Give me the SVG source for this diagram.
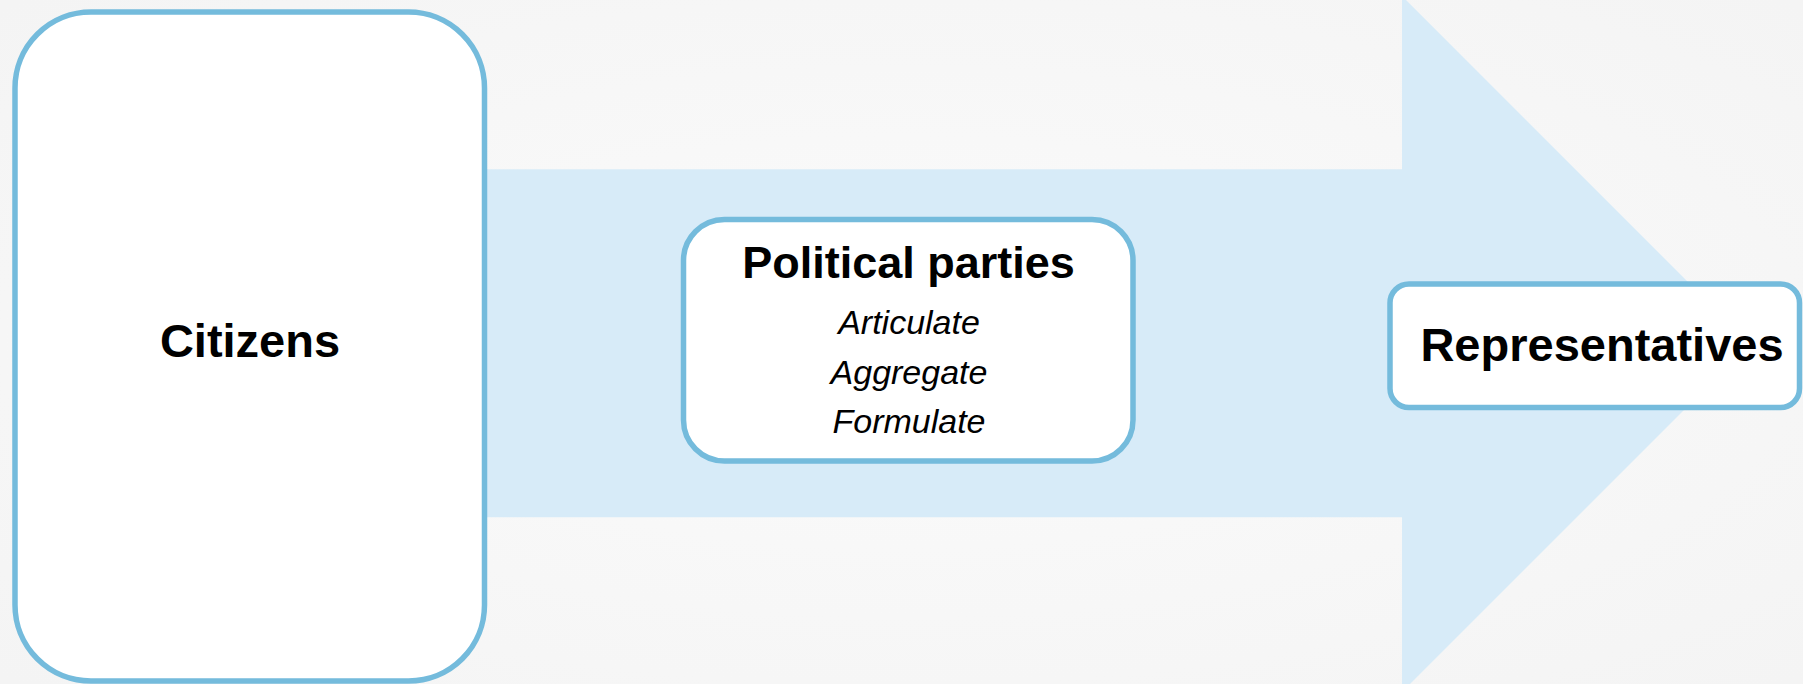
<svg xmlns="http://www.w3.org/2000/svg" width="1803" height="684" viewBox="0 0 1803 684">
<defs>
<radialGradient id="bg" cx="0.5" cy="0.5" r="0.7">
<stop offset="0" stop-color="#fbfbfb"/>
<stop offset="1" stop-color="#f4f4f4"/>
</radialGradient>
<style>
.box{fill:#ffffff;stroke:#74bbdc;stroke-width:5.5}
.title{font-family:"Liberation Sans",Arial,sans-serif;font-weight:bold;fill:#000;text-anchor:middle}
.sub{font-family:"Liberation Sans",Arial,sans-serif;font-style:italic;font-size:34px;fill:#000;text-anchor:middle}
</style>
</defs>
<rect x="0" y="0" width="1803" height="684" fill="url(#bg)"/>
<g id="connectors">
<path d="M480 169.3 H1402 V-4 L1750 344 L1402 692 V517.3 H480 Z" fill="#d7ebf8"/>
</g>
<g id="citizens">
<rect class="box" x="15" y="12" width="469.5" height="669" rx="76" ry="76"/>
<text class="title" x="250" y="357" font-size="47">Citizens</text>
</g>
<g id="political-parties">
<rect class="box" x="683.5" y="219.5" width="449.5" height="241.5" rx="41" ry="41"/>
<text class="title" x="908.5" y="278" font-size="45">Political parties</text>
<text class="sub" x="909" y="334">Articulate</text>
<text class="sub" x="909" y="384">Aggregate</text>
<text class="sub" x="909" y="433">Formulate</text>
</g>
<g id="representatives">
<rect class="box" x="1390" y="284" width="409.5" height="123.5" rx="19" ry="19"/>
<text class="title" x="1602" y="360.5" font-size="47">Representatives</text>
</g>
</svg>
